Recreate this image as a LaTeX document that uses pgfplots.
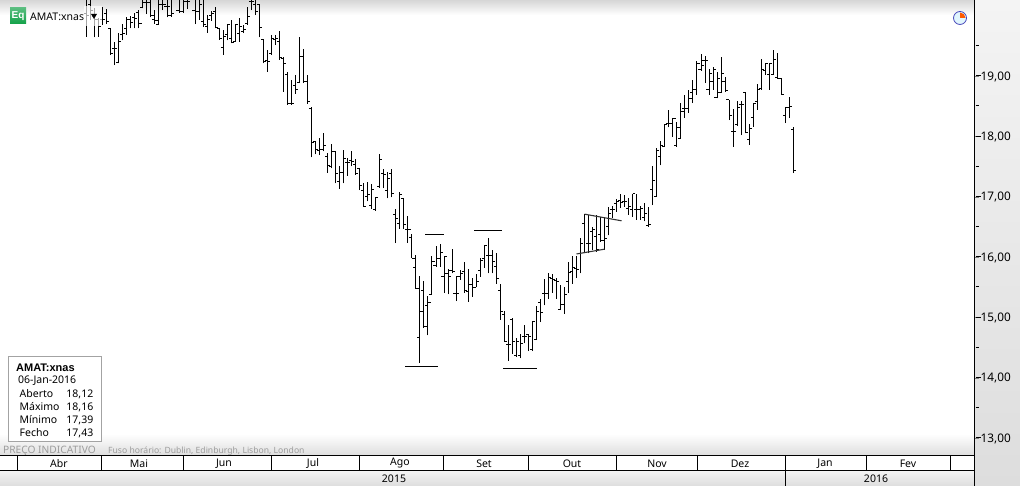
\documentclass[border=0pt]{standalone}
\usepackage{fontspec}
\usepackage{pgfplots}
\usepackage{pgfplotstable}
\pgfplotsset{compat=1.18}
\setmainfont{Noto Sans}
\newfontfamily\boldfam{Liberation Sans}

\definecolor{stripA}{HTML}{F4F4F4}
\definecolor{stripB}{HTML}{DDDDDD}
\definecolor{topgrey}{HTML}{D6D6D6}
\definecolor{boxline}{HTML}{A3A3A3}
\definecolor{faint}{HTML}{9C9C9C}
\definecolor{eqgreen}{HTML}{12A148}
\definecolor{trend}{HTML}{333333}

% i high low open close  (AMAT:xnas daily, x = bar number)
\pgfplotstableread{
i h l o c
0 20.60 19.65 20.04 20.01
1 20.60 19.93 20.18 20.09
2 20.12 19.64 19.98 19.93
3 19.96 19.65 19.93 19.82
4 20.15 19.85 19.93 19.93
5 20.11 19.86 20.03 19.90
6 19.79 19.35 19.79 19.38
7 19.57 19.18 19.46 19.46
8 19.71 19.21 19.23 19.57
9 19.87 19.59 19.68 19.71
10 19.98 19.68 19.79 19.94
11 19.99 19.79 19.94 19.88
12 20.05 19.79 19.97 19.96
13 20.09 19.79 20.05 19.87
14 20.32 20.12 20.14 20.22
15 20.32 20.03 20.22 20.22
16 20.32 19.97 20.22 20.01
17 20.09 19.87 19.93 19.92
18 20.30 19.85 19.86 20.19
19 20.32 20.09 20.19 20.18
20 20.32 19.97 20.16 20.16
21 20.32 19.98 20.01 20.03
22 20.60 20.34 20.40 20.50
23 20.35 20.05 20.09 20.07
24 20.35 20.05 20.07 20.29
25 20.35 20.11 20.23 20.23
26 20.60 20.29 20.40 20.35
27 20.35 19.86 20.09 20.07
28 20.35 19.93 20.07 20.18
29 20.30 19.82 19.90 19.86
30 20.01 19.72 19.82 19.93
31 20.07 19.92 20.01 20.03
32 20.15 19.79 20.07 19.81
33 19.79 19.60 19.79 19.62
34 19.76 19.35 19.48 19.65
35 19.87 19.59 19.68 19.85
36 19.93 19.54 19.62 19.55
37 19.87 19.57 19.57 19.85
38 19.96 19.57 19.71 19.82
39 19.85 19.71 19.74 19.77
40 20.15 19.85 19.87 19.98
41 20.29 20.09 20.23 20.23
42 20.35 20.01 20.18 20.07
43 20.20 19.64 20.18 19.81
44 19.61 19.21 19.61 19.24
45 19.43 19.07 19.25 19.24
46 19.68 19.35 19.38 19.62
47 19.68 19.51 19.60 19.62
48 19.74 19.27 19.57 19.31
49 19.32 18.74 19.29 19.21
50 19.07 18.52 19.02 18.54
51 18.93 18.52 18.54 18.54
52 19.02 18.71 18.85 18.78
53 19.64 18.88 18.89 19.33
54 19.44 18.88 19.33 18.91
55 19.02 18.54 18.91 18.57
56 18.49 17.65 18.46 17.90
57 17.92 17.70 17.91 17.78
58 17.97 17.69 17.77 17.78
59 18.05 17.75 17.78 17.84
60 17.72 17.40 17.67 17.51
61 17.87 17.47 17.50 17.75
62 17.75 17.22 17.75 17.39
63 17.51 17.13 17.25 17.40
64 17.78 17.22 17.40 17.64
65 17.64 17.35 17.56 17.56
66 17.76 17.50 17.60 17.58
67 17.62 17.36 17.54 17.38
68 17.47 17.11 17.47 17.18
69 17.22 16.83 17.10 16.84
70 17.24 16.92 17.01 17.04
71 17.21 16.80 16.86 17.12
72 17.00 16.77 16.79 16.99
73 17.71 17.15 17.17 17.62
74 17.46 17.14 17.38 17.36
75 17.41 16.97 17.11 17.30
76 17.46 16.99 17.38 17.05
77 16.79 16.23 16.71 16.64
78 17.07 16.47 16.55 17.04
79 16.97 16.47 16.97 16.54
80 16.68 16.24 16.45 16.45
81 16.38 15.98 16.33 15.98
82 16.04 15.47 15.83 15.48
83 15.68 14.25 14.67 15.09
84 15.60 14.83 15.44 14.85
85 15.35 14.70 15.20 15.25
86 16.02 15.37 15.38 15.93
87 16.19 15.84 15.86 15.98
88 16.22 15.84 15.97 16.08
89 16.01 15.40 15.67 16.01
90 15.80 15.38 15.73 15.67
91 16.13 15.73 15.77 15.76
92 15.68 15.27 15.40 15.40
93 15.78 15.62 15.67 15.73
94 15.91 15.40 15.76 15.44
95 15.80 15.26 15.42 15.55
96 15.65 15.34 15.54 15.50
97 15.72 15.50 15.50 15.60
98 15.98 15.67 15.78 15.95
99 16.20 15.82 15.98 16.19
100 16.31 15.73 16.03 16.03
101 16.12 15.73 16.03 15.93
102 16.06 15.56 15.84 15.65
103 15.56 14.96 15.45 15.10
104 15.10 14.59 15.05 14.60
105 14.88 14.28 14.55 14.55
106 14.99 14.40 14.97 14.60
107 14.65 14.35 14.36 14.60
108 14.73 14.32 14.36 14.57
109 14.87 14.57 14.68 14.68
110 14.73 14.44 14.71 14.68
111 14.94 14.44 14.47 14.93
112 15.19 14.62 14.64 15.09
113 15.31 14.92 15.25 15.08
114 15.63 15.20 15.40 15.40
115 15.73 15.30 15.40 15.66
116 15.72 15.41 15.65 15.63
117 15.65 15.30 15.61 15.59
118 15.54 15.12 15.13 15.22
119 15.50 15.06 15.22 15.37
120 15.92 15.40 15.59 15.74
121 16.02 15.56 15.76 15.83
122 16.02 15.65 15.81 15.80
123 16.31 15.73 16.06 16.22
124 16.71 16.06 16.55 16.71
125 16.70 16.06 16.22 16.22
126 16.50 16.12 16.42 16.45
127 16.70 16.09 16.34 16.12
128 16.67 16.25 16.37 16.27
129 16.65 16.12 16.28 16.31
130 16.83 16.36 16.51 16.72
131 16.85 16.64 16.78 16.78
132 16.96 16.75 16.89 16.92
133 17.05 16.81 16.94 16.91
134 17.03 16.83 16.92 16.92
135 16.97 16.70 16.81 16.83
136 17.05 16.67 16.78 17.05
137 17.05 16.62 16.79 16.79
138 16.85 16.61 16.78 16.81
139 16.89 16.59 16.66 16.72
140 16.83 16.50 16.53 16.54
141 17.51 16.86 17.12 17.26
142 17.81 17.00 17.01 17.77
143 17.92 17.52 17.67 17.84
144 18.20 17.83 17.83 18.20
145 18.44 18.15 18.22 18.22
146 18.31 17.99 18.22 18.30
147 18.24 17.83 17.84 18.15
148 18.56 17.97 17.97 18.41
149 18.69 18.31 18.46 18.46
150 18.77 18.39 18.46 18.63
151 18.93 18.55 18.72 18.77
152 19.25 18.69 18.77 19.20
153 19.36 19.09 19.11 19.17
154 19.33 18.88 19.25 19.25
155 19.11 18.69 18.78 19.04
156 19.15 18.77 18.91 19.10
157 19.06 18.63 18.65 18.96
158 19.31 18.72 18.72 19.04
159 18.99 18.74 18.91 18.76
160 18.61 18.27 18.61 18.34
161 18.45 17.83 18.08 18.08
162 18.58 18.17 18.20 18.48
163 18.58 18.02 18.52 18.52
164 18.73 18.05 18.73 18.06
165 18.20 17.86 17.94 18.13
166 18.56 18.16 18.31 18.55
167 18.86 18.44 18.58 18.77
168 19.28 18.77 18.80 19.11
169 19.21 19.02 19.09 19.20
170 19.22 18.77 19.02 19.20
171 19.43 19.02 19.03 19.28
172 19.38 18.96 18.98 18.96
173 18.96 18.69 18.96 18.69
174 18.49 18.22 18.34 18.48
175 18.66 18.30 18.48 18.50
176 18.16 17.39 18.12 17.43
}\ohlc

\begin{document}
\begin{tikzpicture}[x=1pt,y=1pt,font=\fontsize{10.5}{12}\selectfont]
\path[use as bounding box] (0,0) rectangle (1020,486);
% backgrounds (y counted up from the bottom of the picture)
\fill[white] (0,0) rectangle (1020,486);
\shade[top color=topgrey,bottom color=white] (0,486) rectangle (974,471);
\shade[top color=white,bottom color=stripB] (0,52) rectangle (974,30);
\shade[top color=stripA,bottom color=stripB] (974,486) rectangle (1020,0);
\shade[top color=stripA,bottom color=stripB] (0,15) rectangle (974,0);

\begin{axis}[
  at={(0,0)}, anchor=south west,
  scale only axis, width=974pt, height=486pt,
  xmin=-21.594, xmax=220.996, ymin=12.204, ymax=20.26,
  hide x axis,
  y axis line style={draw=none},
  ytick pos=right, yticklabel pos=right,
  ytick={13,14,15,16,17,18,19},
  tick align=outside,
  major tick length=5pt,
  yticklabel style={font=\fontsize{11.8}{13}\selectfont,inner sep=0pt,xshift=1.5pt,yshift=-.6pt,
    /pgf/number format/.cd,fixed,fixed zerofill,precision=2,use comma,assume math mode=true},
]
% high-low stems
\addplot[draw=none,mark=none,
  error bars/.cd,y dir=plus,y explicit,error mark=none,
  error bar style={draw=black,line width=1pt}]
  table[x=i,y=l,y error plus expr=\thisrow{h}-\thisrow{l}] {\ohlc};
% open ticks to the left
\addplot[draw=none,mark=none,
  error bars/.cd,x dir=minus,x fixed=0.65,error mark=none,
  error bar style={draw=black,line width=1pt}]
  table[x=i,y=o] {\ohlc};
% close ticks to the right
\addplot[draw=none,mark=none,
  error bars/.cd,x dir=plus,x fixed=0.65,error mark=none,
  error bar style={draw=black,line width=1pt}]
  table[x=i,y=c] {\ohlc};
% drawn shoulder and bottom lines
\addplot[black,line width=1pt] coordinates {(79.3,14.19)(87.5,14.19)};
\addplot[black,line width=1pt] coordinates {(84.3,16.376)(88.9,16.376)};
\addplot[black,line width=1pt] coordinates {(96.5,16.44)(103.4,16.44)};
\addplot[black,line width=1pt] coordinates {(103.7,14.155)(112.2,14.155)};
% flag
\addplot[trend,line width=1.1pt] coordinates {(124,16.71)(133.2,16.60)};
\addplot[trend,line width=1.1pt] coordinates {(122,16.05)(129,16.13)};
\end{axis}
\draw[black,line width=1pt] (974,0) -- (974,486);
% price scale ticks
\foreach \k in {0,...,6}{
  \pgfmathsetmacro{\yy}{410-60.33*\k}
  \pgfmathsetmacro{\ym}{440.5-60.33*\k}
  \draw[black,line width=1pt] (975.5,\yy) -- (980.5,\yy);
  \draw[black,line width=1pt] (975.5,\ym) -- (979,\ym);
}

% header label
\fill[white,opacity=.65] (84,480) rectangle (102,460);
\shade[top color=eqgreen!70!white,bottom color=eqgreen] (10,478) rectangle (26,462);
\node[white,inner sep=0pt,font=\fontsize{10}{11}\boldfam\bfseries] at (18,470) {Eq};
\node[anchor=west,inner sep=0pt] at (30,469) {AMAT:xnas};
\fill[black] (91,472) -- (97,472) -- (94,467) -- cycle;
% clock icon
\fill[cyan!12,draw=blue!45!gray,line width=.8pt] (960,468) circle (6.5);
\fill[orange!70!red] (960,468) -- (960,473.5) arc (90:0:5.5) -- cycle;

% info box
\draw[boxline,fill=white,line width=1pt] (8.5,129.5) rectangle (101.5,44.5);
\node[anchor=west,inner sep=0pt,font=\fontsize{11}{12}\boldfam\bfseries] at (16,118) {AMAT:xnas};
\node[anchor=west,inner sep=0pt] at (18,105) {06-Jan-2016};
\foreach \lab/\val/\yy in {Aberto/{18,12}/92,Máximo/{18,16}/79,Mínimo/{17,39}/66,Fecho/{17,43}/53}{
  \node[anchor=west,inner sep=0pt] at (19.5,\yy) {\lab};
  \node[anchor=east,inner sep=0pt] at (93.5,\yy) {\val};
}
\node[anchor=west,inner sep=0pt,faint,font=\fontsize{10.2}{11}\selectfont] at (3,35) {PREÇO INDICATIVO};
\node[anchor=west,inner sep=0pt,faint,font=\fontsize{8.6}{10}\selectfont] at (108,35) {Fuso horário: Dublin, Edinburgh, Lisbon, London};

% month and year strips
\fill[white] (0,30) rectangle (974,15);
\draw[black,line width=1pt] (0,30) -- (974,30) (0,15) -- (974,15);
\foreach \xx in {17,101,183,271,359,443,528,616,697,785,866,950}
  \draw[black,line width=1pt] (\xx,30) -- (\xx,15);
\draw[black,line width=1pt] (785,15) -- (785,0);
\foreach \lab/\xx in {Abr/59,Mai/139,Jun/224,Jul/313,Ago/400,Set/484,Out/572,Nov/657,Dez/740,Jan/825,Fev/908}
  \node[inner sep=0pt] at (\xx,22.5) {\lab};
\node[inner sep=0pt] at (394,7.5) {2015};
\node[inner sep=0pt] at (876,7.5) {2016};
\end{tikzpicture}
\end{document}
